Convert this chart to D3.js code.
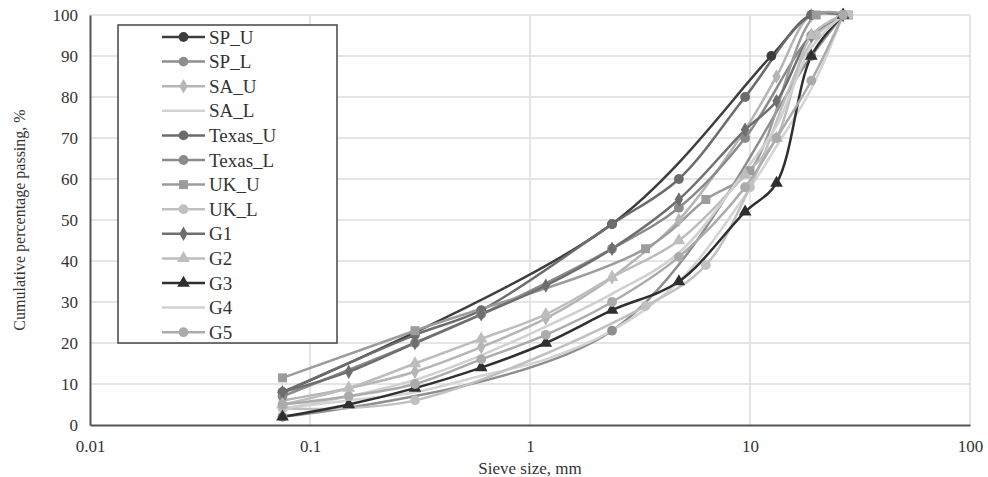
<!DOCTYPE html>
<html>
<head>
<meta charset="utf-8">
<script src="https://cdn.jsdelivr.net/npm/d3@7"></script>
<style>
  body { margin: 0; background: #fff; }
  text { font-family: "Liberation Serif", "Times New Roman", serif; fill: #333; }
</style>
</head>
<body>
<script>
// Sieve sizes (mm) and percent passing
var names = ["SP_U", "SP_L", "SA_U", "SA_L", "Texas_U", "Texas_L", "UK_U", "UK_L", "G1", "G2", "G3", "G4", "G5"];

var sieveSP = [0.075, 2.36, 12.5, 19, 26.5];
var spU = [8, 49, 90, 100, 100];
var sieveSPL = [0.075, 2.36, 19, 26.5];
var spL = [2, 23, 90, 100];

var sieveStd = [0.075, 0.15, 0.3, 0.6, 1.18, 2.36, 4.75, 9.5, 13.2, 19, 26.5];
var saU = [6, 9, 13, 19, 26, 36, 50, 72, 85, 100, 100];
var saL = [4, 6, 8, 12, 16, 23, 35, 56, 68, 82, 100];

var sieveTx = [0.075, 0.3, 0.6, 2.36, 4.75, 9.5, 19, 26.5];
var texasU = [8, 22, 28, 49, 60, 80, 100, 100];
var texasL = [7, 20, 27, 43, 53, 70, 95, 100];

var sieveUK = [0.075, 0.3, 3.35, 6.3, 10, 20, 28];
var ukU = [11.5, 23, 43, 55, 62, 100, 100];
var ukL = [4, 6, 29, 39, 58, 95, 100];

var g1 = [8, 13, 20, 27, 34, 43, 55, 72, 79, 95, 100];
var g2 = [5, 9, 15, 21, 27, 36, 45, 61, 70, 95, 100];
var g3 = [2, 5, 9, 14, 20, 28, 35, 52, 59, 90, 100];
var g4 = [4, 7, 11, 17, 24, 32, 42, 62, 73, 92, 100];
var g5 = [5, 7, 10, 16, 22, 30, 41, 58, 70, 84, 100];

var yTicks = [0, 10, 20, 30, 40, 50, 60, 70, 80, 90, 100];
var xTicks = [0.01, 0.1, 1, 10, 100];
var xTickLabels = ["0.01", "0.1", "1", "10", "100"];

function pairs(xs, ys) {
  return xs.map(function(x, i) { return {size: x, pass: ys[i]}; });
}

var series = [
  {name: "SP_U", pts: pairs(sieveSP, spU), color: "#3d3d3d", marker: "circle"},
  {name: "SP_L", pts: pairs(sieveSPL, spL), color: "#8e8e8e", marker: "circle"},
  {name: "SA_U", pts: pairs(sieveStd, saU), color: "#b5b5b5", marker: "diamond"},
  {name: "SA_L", pts: pairs(sieveStd, saL), color: "#d3d3d3", marker: "none"},
  {name: "Texas_U", pts: pairs(sieveTx, texasU), color: "#6c6c6c", marker: "circle"},
  {name: "Texas_L", pts: pairs(sieveTx, texasL), color: "#8a8a8a", marker: "circle"},
  {name: "UK_U", pts: pairs(sieveUK, ukU), color: "#9c9c9c", marker: "square"},
  {name: "UK_L", pts: pairs(sieveUK, ukL), color: "#c0c0c0", marker: "circle"},
  {name: "G1", pts: pairs(sieveStd, g1), color: "#6e6e6e", marker: "diamond"},
  {name: "G2", pts: pairs(sieveStd, g2), color: "#bdbdbd", marker: "triangle"},
  {name: "G3", pts: pairs(sieveStd, g3), color: "#2f2f2f", marker: "triangle"},
  {name: "G4", pts: pairs(sieveStd, g4), color: "#d0d0d0", marker: "none"},
  {name: "G5", pts: pairs(sieveStd, g5), color: "#ababab", marker: "circle"}
];

var W = 988, H = 477;
var margin = {top: 15, right: 18, bottom: 52, left: 90};

var svg = d3.select("body").append("svg")
  .attr("width", W)
  .attr("height", H);

var x = d3.scaleLog().domain([0.01, 100]).range([margin.left, W - margin.right]);
var y = d3.scaleLinear().domain([0, 100]).range([H - margin.bottom, margin.top]);

// grid
svg.append("g").selectAll("line.h")
  .data(yTicks.slice(1))
  .enter().append("line")
    .attr("x1", x(0.01)).attr("x2", x(100))
    .attr("y1", function(d) { return y(d); })
    .attr("y2", function(d) { return y(d); })
    .attr("stroke", "#dcdcdc").attr("stroke-width", 1.5);

svg.append("g").selectAll("line.v")
  .data(xTicks.slice(1))
  .enter().append("line")
    .attr("x1", function(d) { return x(d); })
    .attr("x2", function(d) { return x(d); })
    .attr("y1", y(0)).attr("y2", y(100))
    .attr("stroke", "#dcdcdc").attr("stroke-width", 1.5);

// axes
var xAxis = d3.axisBottom(x).tickValues(xTicks)
  .tickFormat(function(d, i) { return xTickLabels[i]; })
  .tickSize(0).tickPadding(15);
var yAxis = d3.axisLeft(y).tickValues(yTicks).tickSize(0).tickPadding(12);

var gx = svg.append("g")
  .attr("transform", "translate(0," + y(0) + ")")
  .call(xAxis);
gx.select(".domain").attr("stroke", "#555").attr("stroke-width", 2);
gx.selectAll("text").style("font-size", "17px").attr("fill", "#333")
  .style("font-family", "'Liberation Serif', serif");

var gy = svg.append("g")
  .attr("transform", "translate(" + x(0.01) + ",0)")
  .call(yAxis);
gy.select(".domain").attr("stroke", "#555").attr("stroke-width", 2);
gy.selectAll("text").style("font-size", "17px").attr("fill", "#333")
  .style("font-family", "'Liberation Serif', serif");

// titles
svg.append("text")
  .attr("x", 530).attr("y", 474)
  .attr("text-anchor", "middle")
  .style("font-size", "17px")
  .text("Sieve size, mm");

svg.append("text")
  .attr("transform", "translate(25," + 220 + ") rotate(-90)")
  .attr("text-anchor", "middle")
  .style("font-size", "16px")
  .text("Cumulative percentage passing, %");

// lines
var line = d3.line()
  .x(function(d) { return x(d.size); })
  .y(function(d) { return y(d.pass); })
  .curve(d3.curveCatmullRom.alpha(0.5));

var symbolType = {
  circle: d3.symbolCircle,
  diamond: d3.symbolDiamond,
  square: d3.symbolSquare,
  triangle: d3.symbolTriangle
};
var symbolSize = {circle: 75, diamond: 60, square: 80, triangle: 70};

var plot = svg.append("g");

series.forEach(function(s) {
  plot.append("path")
    .attr("d", line(s.pts))
    .attr("fill", "none")
    .attr("stroke", s.color)
    .attr("stroke-width", 2.5);
});

series.forEach(function(s) {
  if (s.marker === "none") return;
  plot.selectAll(null)
    .data(s.pts)
    .enter().append("path")
      .attr("transform", function(d) { return "translate(" + x(d.size) + "," + y(d.pass) + ")"; })
      .attr("d", d3.symbol().type(symbolType[s.marker]).size(symbolSize[s.marker]))
      .attr("fill", s.color);
});

// legend
var legend = svg.append("g");
legend.append("rect")
  .attr("x", 118).attr("y", 25)
  .attr("width", 219).attr("height", 318)
  .attr("fill", "#fff")
  .attr("stroke", "#444").attr("stroke-width", 1.5);

var rows = legend.selectAll("g.row")
  .data(series)
  .enter().append("g")
    .attr("transform", function(d, i) { return "translate(0," + (37 + i * 24.6) + ")"; });

rows.append("line")
  .attr("x1", 162).attr("x2", 205)
  .attr("stroke", function(d) { return d.color; })
  .attr("stroke-width", 2.5);

rows.filter(function(d) { return d.marker !== "none"; })
  .append("path")
    .attr("transform", "translate(183.5,0)")
    .attr("d", function(d) { return d3.symbol().type(symbolType[d.marker]).size(symbolSize[d.marker])(); })
    .attr("fill", function(d) { return d.color; });

rows.append("text")
  .attr("x", 209).attr("y", 6.5)
  .style("font-size", "19px")
  .text(function(d) { return d.name; });
</script>
</body>
</html>
